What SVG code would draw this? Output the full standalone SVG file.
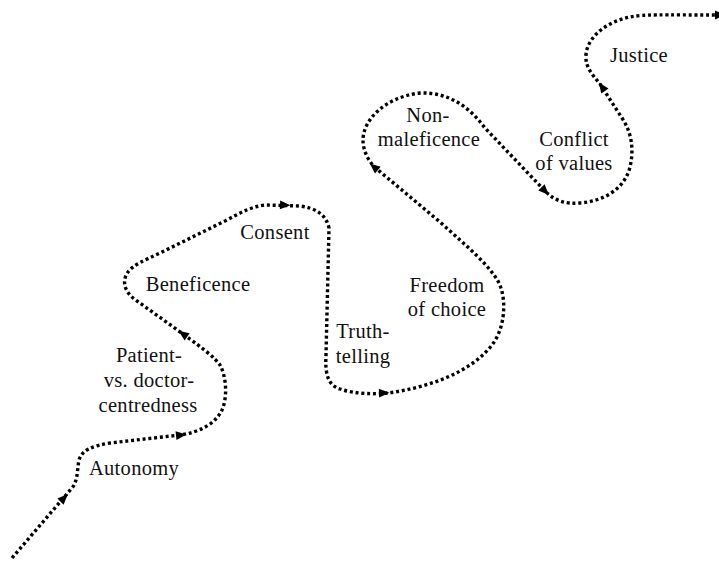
<svg xmlns="http://www.w3.org/2000/svg" xmlns:xlink="http://www.w3.org/1999/xlink" width="719" height="563" viewBox="0 0 719 563">
  <style>
    .lbl { font-family: "Liberation Serif", "DejaVu Serif", serif; font-size: 20.5px; letter-spacing: 0.3px; fill: #111; text-anchor: middle; }
    .trail { fill: none; stroke: #000; stroke-width: 3.4; stroke-dasharray: 3 2.8; stroke-linecap: butt; stroke-linejoin: round; }
    .head { fill: #000; }
  </style>
  <defs>
    <!-- arrowhead pointing along +x, tip at +5 -->
    <polygon id="tip" class="head" points="5.5,0 -5,-4.4 -5,4.4"/>
  </defs>
  <rect width="719" height="563" fill="#fff"/>

  <g id="connectors">
    <path class="trail" d="M12,558 L72,488 C78,481 77,470 79,460 C82,450 92,446 110,443 L180,435 C200,432 215,424 222,410 C228,396 226,376 220,365 C214,357 205,350 183,334 L137,301 C125,293 121,282 128,272 C133,265 145,260 160,253 L225,221 C240,213 250,207 265,205 L300,206 C315,208 326,214 329,228 L326,355 C325,372 327,385 340,389 C355,394 375,395 395,392 C430,386 470,373 492,345 C505,328 507,300 499,283 C490,266 470,249 440,222 L378,170 C368,162 363,150 363,140 C363,120 385,97 420,93 C450,92 470,108 485,128 L545,191 C555,201 565,204 580,203 C605,201 625,188 630,167 C634,150 632,133 622,118 L600,84 C592,74 585,67 586,55 C587,38 605,22 630,17 C645,14 660,15 717,15"/>
    <use xlink:href="#tip" transform="translate(64,498) rotate(-45)"/>
    <use xlink:href="#tip" transform="translate(181,435) rotate(-6)"/>
    <use xlink:href="#tip" transform="translate(183,334) rotate(-145)"/>
    <use xlink:href="#tip" transform="translate(285,205) rotate(2)"/>
    <use xlink:href="#tip" transform="translate(384,393) rotate(-2)"/>
    <use xlink:href="#tip" transform="translate(374,167) rotate(-140)"/>
    <use xlink:href="#tip" transform="translate(545,191) rotate(45)"/>
    <use xlink:href="#tip" transform="translate(602,87) rotate(-125)"/>
    <use xlink:href="#tip" transform="translate(720,15)"/>
  </g>

  <g id="autonomy"><text class="lbl" x="134" y="475">Autonomy</text></g>
  <g id="patient-vs-doctor">
    <text class="lbl" x="149" y="362">Patient-</text>
    <text class="lbl" x="149" y="387">vs. doctor-</text>
    <text class="lbl" x="148" y="412">centredness</text>
  </g>
  <g id="beneficence"><text class="lbl" x="198" y="291">Beneficence</text></g>
  <g id="consent"><text class="lbl" x="275" y="239">Consent</text></g>
  <g id="truth-telling">
    <text class="lbl" x="363" y="338">Truth-</text>
    <text class="lbl" x="363" y="363">telling</text>
  </g>
  <g id="freedom-of-choice">
    <text class="lbl" x="447" y="292">Freedom</text>
    <text class="lbl" x="447" y="316">of choice</text>
  </g>
  <g id="non-maleficence">
    <text class="lbl" x="428" y="122">Non-</text>
    <text class="lbl" x="429" y="146">maleficence</text>
  </g>
  <g id="conflict-of-values">
    <text class="lbl" x="574" y="146">Conflict</text>
    <text class="lbl" x="574" y="170">of values</text>
  </g>
  <g id="justice"><text class="lbl" x="639" y="62">Justice</text></g>
</svg>
